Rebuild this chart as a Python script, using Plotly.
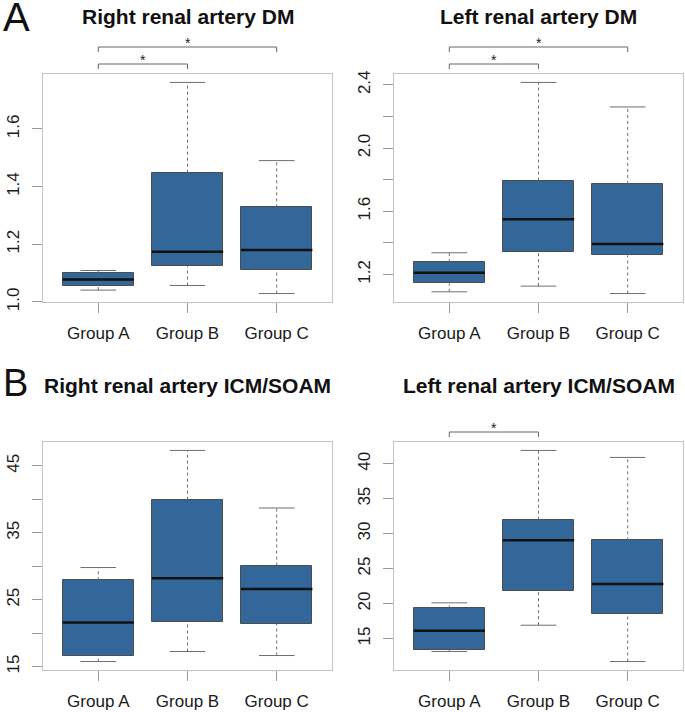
import plotly.graph_objects as go

# ---------------- data ----------------
groups = ["Group A", "Group B", "Group C"]

titles = ["Right renal artery DM", "Left renal artery DM",
          "Right renal artery ICM/SOAM", "Left renal artery ICM/SOAM"]
panel_letters = ["A", "B"]

# Right renal artery DM
rdm_lower = [1.041, 1.057, 1.029]
rdm_q1 = [1.055, 1.123, 1.110]
rdm_median = [1.078, 1.174, 1.180]
rdm_q3 = [1.099, 1.448, 1.328]
rdm_upper = [1.109, 1.761, 1.490]

# Left renal artery DM
ldm_lower = [1.090, 1.126, 1.079]
ldm_q1 = [1.143, 1.340, 1.321]
ldm_median = [1.210, 1.549, 1.392]
ldm_q3 = [1.278, 1.794, 1.773]
ldm_upper = [1.337, 2.415, 2.260]

# Right renal artery ICM/SOAM
ricm_lower = [15.75, 17.25, 16.65]
ricm_q1 = [16.6, 21.65, 21.35]
ricm_median = [21.6, 28.2, 26.6]
ricm_q3 = [27.9, 39.95, 30.1]
ricm_upper = [29.8, 47.3, 38.7]

# Left renal artery ICM/SOAM
licm_lower = [13.14, 16.9, 11.7]
licm_q1 = [13.42, 21.78, 18.48]
licm_median = [16.09, 29.04, 22.78]
licm_q3 = [19.3, 31.99, 29.04]
licm_upper = [20.1, 41.9, 40.9]

# y ticks
rdm_ticks = [1.0, 1.2, 1.4, 1.6]
rdm_ticklabels = ["1.0", "1.2", "1.4", "1.6"]
ldm_ticks = [1.2, 1.4, 1.6, 1.8, 2.0, 2.2, 2.4]
ldm_ticklabels = ["1.2", "", "1.6", "", "2.0", "", "2.4"]
ricm_ticks = [15, 20, 25, 30, 35, 40, 45]
ricm_ticklabels = ["15", "", "25", "", "35", "", "45"]
licm_ticks = [15, 20, 25, 30, 35, 40]
licm_ticklabels = ["15", "20", "25", "30", "35", "40"]

# significance comparisons (group pairs) per panel
rdm_sig = [("Group A", "Group B"), ("Group A", "Group C")]
ldm_sig = [("Group A", "Group B"), ("Group A", "Group C")]
ricm_sig = []
licm_sig = [("Group A", "Group B")]

# ---------------- styling / layout ----------------
W, H = 685, 712
FILL = "#336699"
BORDER = "#4d4d4d"
WHISK = "#6e6e6e"
FRAME = "#c4c4c4"
FONT = "Liberation Sans, Arial, sans-serif"


def fx(px):
    return px / W


def fy(py):
    return 1 - py / H


panels = [
    dict(lower=rdm_lower, q1=rdm_q1, med=rdm_median, q3=rdm_q3, upper=rdm_upper,
         ticks=rdm_ticks, labels=rdm_ticklabels, sig=rdm_sig, px=(43, 332), py=(74, 302)),
    dict(lower=ldm_lower, q1=ldm_q1, med=ldm_median, q3=ldm_q3, upper=ldm_upper,
         ticks=ldm_ticks, labels=ldm_ticklabels, sig=ldm_sig, px=(394, 683), py=(74, 302)),
    dict(lower=ricm_lower, q1=ricm_q1, med=ricm_median, q3=ricm_q3, upper=ricm_upper,
         ticks=ricm_ticks, labels=ricm_ticklabels, sig=ricm_sig, px=(43, 332), py=(442, 670)),
    dict(lower=licm_lower, q1=licm_q1, med=licm_median, q3=licm_q3, upper=licm_upper,
         ticks=licm_ticks, labels=licm_ticklabels, sig=licm_sig, px=(394, 683), py=(442, 670)),
]

BOXW = 0.8
CAPW = 0.4
pos = [i + 1 for i in range(len(groups))]

fig = go.Figure()
shapes = []
annotations = []
layout_axes = {}

for k, p in enumerate(panels):
    sfx = "" if k == 0 else str(k + 1)
    xa, ya = "x" + sfx, "y" + sfx

    # whiskers (dashed)
    wx, wy = [], []
    for i, x in enumerate(pos):
        wx += [x, x, None, x, x, None]
        wy += [p["q3"][i], p["upper"][i], None, p["lower"][i], p["q1"][i], None]
    fig.add_trace(go.Scatter(x=wx, y=wy, mode="lines", xaxis=xa, yaxis=ya,
                             line=dict(color=WHISK, width=1, dash="3px,3px"),
                             hoverinfo="skip", showlegend=False))
    # caps
    cx, cy = [], []
    for i, x in enumerate(pos):
        cx += [x - CAPW / 2, x + CAPW / 2, None, x - CAPW / 2, x + CAPW / 2, None]
        cy += [p["upper"][i], p["upper"][i], None, p["lower"][i], p["lower"][i], None]
    fig.add_trace(go.Scatter(x=cx, y=cy, mode="lines", xaxis=xa, yaxis=ya,
                             line=dict(color=WHISK, width=1),
                             hoverinfo="skip", showlegend=False))
    # boxes
    fig.add_trace(go.Bar(x=pos, base=p["q1"],
                         y=[q3 - q1 for q1, q3 in zip(p["q1"], p["q3"])],
                         width=BOXW, xaxis=xa, yaxis=ya,
                         marker=dict(color=FILL, line=dict(color=BORDER, width=1)),
                         hoverinfo="skip", showlegend=False))
    # medians
    mx, my = [], []
    for i, x in enumerate(pos):
        mx += [x - BOXW / 2, x + BOXW / 2, None]
        my += [p["med"][i], p["med"][i], None]
    fig.add_trace(go.Scatter(x=mx, y=my, mode="lines", xaxis=xa, yaxis=ya,
                             line=dict(color="#111111", width=2.5),
                             hoverinfo="skip", showlegend=False))

    lo, hi = min(p["lower"]), max(p["upper"])
    pad = 0.04 * (hi - lo)
    x0, x1 = p["px"]
    y0, y1 = p["py"]
    common = dict(showgrid=False, zeroline=False, showline=True, mirror=True,
                  linecolor=FRAME, linewidth=1.2, ticks="outside", ticklen=10,
                  tickcolor="#9a9a9a", tickwidth=1, automargin=False,
                  tickfont=dict(family=FONT, size=17, color="#1a1a1a"))
    layout_axes["xaxis" + sfx] = dict(
        common, domain=[fx(x0), fx(x1)], anchor=ya, range=[0.5 - 0.12, len(groups) + 0.5 + 0.12],
        tickmode="array", tickvals=pos, ticktext=groups, ticklabelstandoff=5)
    layout_axes["yaxis" + sfx] = dict(
        common, domain=[fy(y1), fy(y0)], anchor=xa, range=[lo - pad, hi + pad],
        tickmode="array", tickvals=p["ticks"], ticktext=p["labels"], tickangle=-90,
        ticklabelstandoff=6)

    # title
    annotations.append(dict(text="<b>" + titles[k] + "</b>", xref="paper", yref="paper",
                            x=fx((x0 + x1) / 2), y=fy(17 if k < 2 else 385),
                            xanchor="center", yanchor="middle", showarrow=False,
                            font=dict(family=FONT, size=21, color="#111111")))

    # significance brackets
    for lvl, (ga, gb) in enumerate(p["sig"]):
        xa_v = pos[groups.index(ga)]
        xb_v = pos[groups.index(gb)]
        yl = y0 - (10 if lvl == 0 else 27)
        shapes.append(dict(type="path", xref=xa, yref="paper",
                           path=f"M {xa_v} {fy(yl + 5)} L {xa_v} {fy(yl)} "
                                f"L {xb_v} {fy(yl)} L {xb_v} {fy(yl + 5)}",
                           line=dict(color="#666666", width=1)))
        annotations.append(dict(text="*", xref=xa, yref="paper",
                                x=(xa_v + xb_v) / 2, y=fy(yl - 4),
                                xanchor="center", yanchor="middle", showarrow=False,
                                font=dict(family=FONT, size=14, color="#222222")))

# panel letters
annotations.append(dict(text=panel_letters[0], xref="paper", yref="paper", x=fx(1), y=fy(17),
                        xanchor="left", yanchor="middle", showarrow=False,
                        font=dict(family=FONT, size=40, color="#111111")))
annotations.append(dict(text=panel_letters[1], xref="paper", yref="paper", x=fx(1), y=fy(383),
                        xanchor="left", yanchor="middle", showarrow=False,
                        font=dict(family=FONT, size=38, color="#111111")))

fig.update_layout(template="none", width=W, height=H,
                  margin=dict(l=0, r=0, t=0, b=0, pad=0, autoexpand=False),
                  paper_bgcolor="white", plot_bgcolor="white",
                  shapes=shapes, annotations=annotations, bargap=0,
                  **layout_axes)

# remove the page's default 8px body margin so the figure sits at the window origin
fig.write_html("out.html", config={"displayModeBar": False},
               post_script="document.body.style.margin='0';")
